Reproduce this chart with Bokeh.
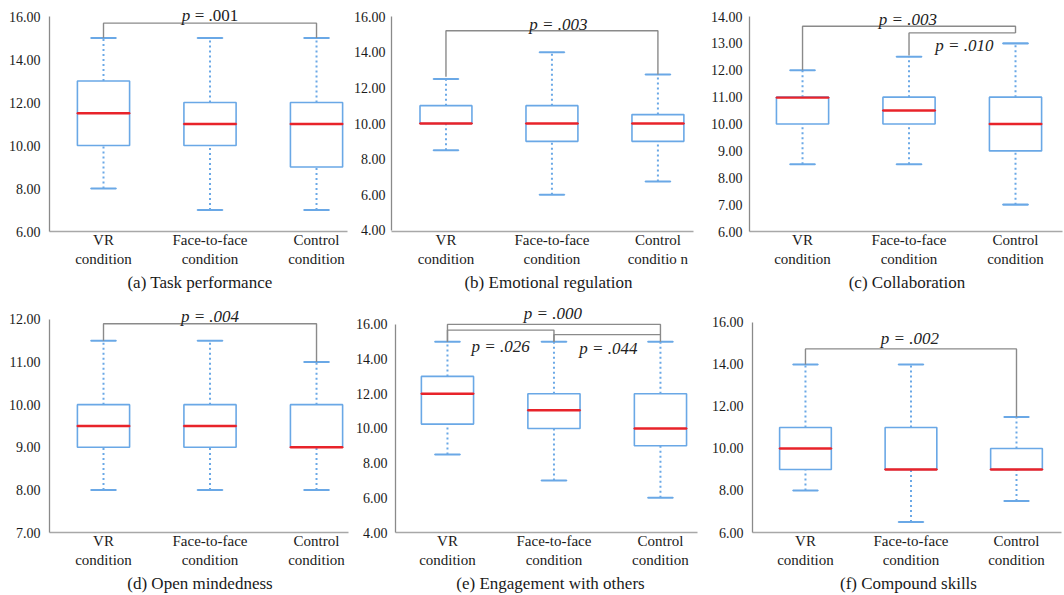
from bokeh.plotting import figure
from bokeh.layouts import column, row
from bokeh.models import Range1d, FixedTicker, ColumnDataSource
from bokeh.core.properties import value
from bokeh.embed import file_html
from bokeh.resources import INLINE

FONT = "Liberation Serif"
BLUE = "#6aa8e6"
RED = "#e8232a"
GRAY = "#8a8a8a"

groups = ["VR\ncondition", "Face-to-face\ncondition", "Control\ncondition"]
groups_b = ["VR\ncondition", "Face-to-face\ncondition", "Control\nconditio n"]

# ---- data: (whisker low, q1, median, q3, whisker high) per group ----
a_low = [8, 7, 7];        a_q1 = [10, 10, 9];     a_med = [11.5, 11, 11];  a_q3 = [13, 12, 12];     a_high = [15, 15, 15]
b_low = [8.5, 6, 6.75];   b_q1 = [10, 9, 9];      b_med = [10, 10, 10];    b_q3 = [11, 11, 10.5];   b_high = [12.5, 14, 12.75]
c_low = [8.5, 8.5, 7];    c_q1 = [10, 10, 9];     c_med = [10.98, 10.5, 10]; c_q3 = [11, 11, 11];   c_high = [12, 12.5, 13]
d_low = [8, 8, 8];        d_q1 = [9, 9, 9];       d_med = [9.5, 9.5, 9];   d_q3 = [10, 10, 10];     d_high = [11.5, 11.5, 11]
e_low = [8.5, 7, 6];      e_q1 = [10.25, 10, 9];  e_med = [12, 11.05, 10]; e_q3 = [13, 12, 12];     e_high = [15, 15, 15]
f_low = [8, 6.5, 7.5];    f_q1 = [9, 9, 9];       f_med = [10, 9, 9];      f_q3 = [11, 11, 10];     f_high = [14, 14, 11.5]

# y axis: (min, max, step)
a_axis = (6, 16, 2); b_axis = (4, 16, 2); c_axis = (6, 14, 1)
d_axis = (7, 12, 1); e_axis = (4, 16, 2); f_axis = (6, 16, 2)

titles = ["(a) Task performance", "(b) Emotional regulation", "(c) Collaboration",
          "(d) Open mindedness", "(e) Engagement with others", "(f) Compound skills"]

# brackets: (left group, right group, level, left foot, right foot)
a_br = [(0, 2, 15.69, 15.0, 15.0)]
b_br = [(0, 2, 15.2, 12.62, 12.75)]
c_br = [(0, 2, 13.64, 12.0, 13.39), (1, 2, 13.39, 12.55, 13.39)]
d_br = [(0, 2, 11.9, 11.5, 11.0)]
e_br = [(0, 2, 16.0, 15.0, 15.0), (0, 1, 15.67, 15.0, 15.0), (1, 2, 15.41, 15.0, 15.41)]
f_br = [(0, 2, 14.74, 14.0, 11.5)]

# p-value texts: (x, centre y, label)
a_p = [(1.0, 16.06, ".001")]
b_p = [(1.06, 15.56, ".003")]
c_p = [(0.99, 13.90, ".003"), (1.52, 12.92, ".010")]
d_p = [(1.0, 12.08, ".004")]
e_p = [(0.99, 16.61, ".000"), (0.50, 14.75, ".026"), (1.51, 14.61, ".044")]
f_p = [(0.99, 15.25, ".002")]


def panel(width, height, xr, xb, yr, axis, stats, br, pv, title, labels,
          bl, bb, ystand, italic_all=True):
    lo, q1, med, q3, hi = stats
    p = figure(width=width, height=height, output_backend="svg", toolbar_location=None,
               x_range=Range1d(*xr), y_range=Range1d(*yr),
               min_border_left=bl, min_border_right=0, min_border_top=0,
               min_border_bottom=bb)
    p.outline_line_color = None
    p.grid.visible = False
    p.background_fill_color = "white"
    p.border_fill_color = "white"
    xs = [0, 1, 2]
    src = ColumnDataSource(dict(x=xs, lo=lo, q1=q1, med=med, q3=q3, hi=hi))
    p.segment(x0="x", y0="lo", x1="x", y1="q1", source=src, line_color=BLUE,
              line_width=2, line_dash="2 3")
    p.segment(x0="x", y0="q3", x1="x", y1="hi", source=src, line_color=BLUE,
              line_width=2, line_dash="2 3")
    p.rect(x="x", y="lo", width=0.235, height=0.0001, source=src, line_color=BLUE,
           line_width=2)
    p.rect(x="x", y="hi", width=0.235, height=0.0001, source=src, line_color=BLUE,
           line_width=2)
    p.vbar(x="x", bottom="q1", top="q3", width=0.49, source=src, fill_color="white",
           line_color=BLUE, line_width=1.6)
    p.rect(x="x", y="med", width=0.49, height=0.0001, source=src, line_color=RED,
           line_width=2.4)
    for (g0, g1, lev, f0, f1) in br:
        p.line(x=[g0, g0, g1, g1], y=[f0, lev, lev, f1], line_color=GRAY, line_width=1.4)
    for (x, y, t) in pv:
        if italic_all:
            p.text(x=[x], y=[y], text=["p = " + t], text_font=value(FONT),
                   text_font_style="italic", text_font_size="17px", text_align="center",
                   text_baseline="middle", text_color="#222222")
        else:
            p.text(x=[x], y=[y], text=["p"], text_font=value(FONT),
                   text_font_style="italic", text_font_size="17px", text_align="center",
                   text_baseline="middle", text_color="#222222", x_offset=-24)
            p.text(x=[x], y=[y], text=["= " + t], text_font=value(FONT),
                   text_font_size="17px", text_align="center",
                   text_baseline="middle", text_color="#222222", x_offset=6.5)
    ymin, ymax, step = axis
    ticks = []
    v = ymin
    while v <= ymax + 1e-9:
        ticks.append(v)
        v += step
    p.yaxis.ticker = FixedTicker(ticks=ticks)
    p.yaxis.major_label_overrides = {t: "%.2f" % t for t in ticks}
    p.yaxis.bounds = (ymin, ymax)
    p.xaxis.ticker = FixedTicker(ticks=xs)
    p.xaxis.major_label_overrides = {i: labels[i] for i in xs}
    p.xaxis.bounds = (xr[0], xb)
    for ax in (p.xaxis[0], p.yaxis[0]):
        ax.axis_line_color = GRAY
        ax.axis_line_width = 1.3
        ax.major_tick_line_color = None
        ax.minor_tick_line_color = None
        ax.major_tick_out = 0
        ax.major_tick_in = 0
        ax.major_label_text_font = FONT
        ax.major_label_text_color = "#1a1a1a"
    p.yaxis.major_label_text_font_size = "14px"
    p.yaxis.major_label_standoff = ystand
    p.xaxis.axis_line_color = "#a8a8a8"
    p.xaxis.major_label_text_font_size = "15px"
    p.xaxis.major_label_standoff = 0
    p.xaxis.axis_label = title
    p.xaxis.axis_label_text_font = FONT
    p.xaxis.axis_label_text_font_size = "17px"
    p.xaxis.axis_label_text_font_style = "normal"
    p.xaxis.axis_label_text_color = "#1a1a1a"
    p.xaxis.axis_label_standoff = 3
    return p


fa = panel(350, 300, (-0.507, 2.319), 2.29, (6, 16 + 16 / 21.5), a_axis,
           (a_low, a_q1, a_med, a_q3, a_high), a_br, a_p, titles[0], groups, 49, 69, 9,
           italic_all=False)
fb = panel(355, 300, (-0.514, 2.449), 2.336, (4 - 1 / 17.83, 16 + 16 / 17.83), b_axis,
           (b_low, b_q1, b_med, b_q3, b_high), b_br, b_p, titles[1], groups_b, 38, 69, 6)
fc = panel(359, 300, (-0.498, 2.46), 2.44, (6, 14 + 16 / 26.875), c_axis,
           (c_low, c_q1, c_med, c_q3, c_high), c_br, c_p, titles[2], groups, 44, 69, 7)
fd = panel(350, 295, (-0.507, 2.319), 2.30, (7, 12 + 19 / 42.8), d_axis,
           (d_low, d_q1, d_med, d_q3, d_high), d_br, d_p, titles[3], groups, 49, 62, 9)
fe = panel(355, 295, (-0.488, 2.423), 2.35, (4, 16 + 24 / 17.417), e_axis,
           (e_low, e_q1, e_med, e_q3, e_high), e_br, e_p, titles[4], groups, 45, 62, 8)
ff = panel(359, 295, (-0.502, 2.455), 2.43, (6, 16 + 22 / 21.1), f_axis,
           (f_low, f_q1, f_med, f_q3, f_high), f_br, f_p, titles[5], groups, 47, 62, 9)

layout = column(row(fa, fb, fc), row(fd, fe, ff))
open("out.html", "w").write(file_html(layout, INLINE))
